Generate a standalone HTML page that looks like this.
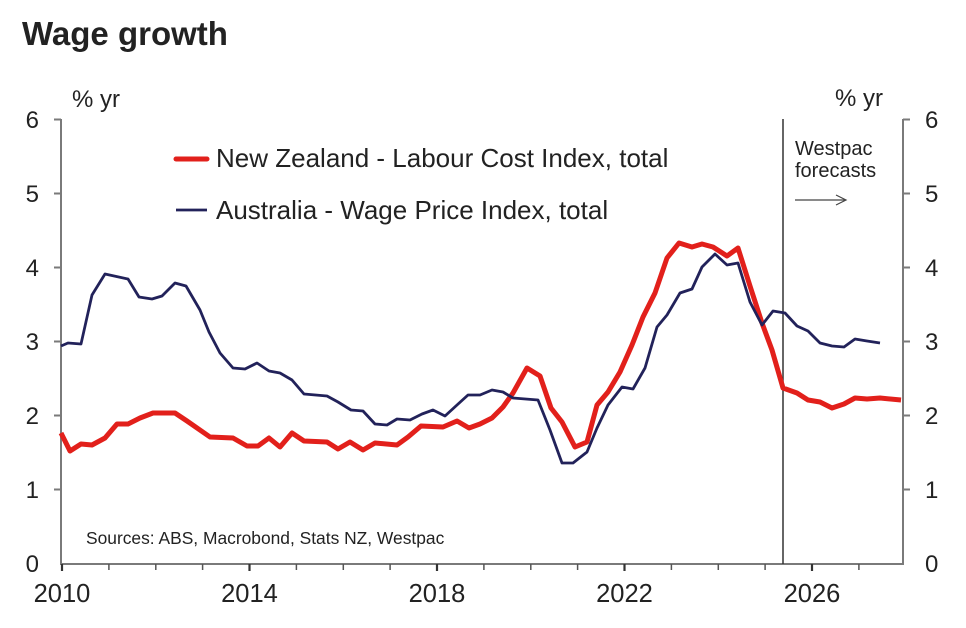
<!DOCTYPE html>
<html><head><meta charset="utf-8"><style>
html,body{margin:0;padding:0;background:#fff;}
svg{display:block;}
text{font-family:"Liberation Sans",Arial,sans-serif;fill:#222;}
</style></head><body>
<svg width="966" height="628" viewBox="0 0 966 628" xmlns="http://www.w3.org/2000/svg">
<rect width="966" height="628" fill="#fff"/>
<text x="22" y="45" font-size="33" font-weight="bold" fill="#1c1c28">Wage growth</text>

<!-- axis unit labels -->
<text x="72" y="107" font-size="24">% yr</text>
<text x="835" y="106" font-size="24">% yr</text>

<!-- axes -->
<g stroke="#7a7a7a" stroke-width="2" fill="none">
<line x1="61" y1="119" x2="61" y2="564"/>
<line x1="903" y1="119" x2="903" y2="564"/>
<line x1="60" y1="564" x2="904" y2="564"/>
<line x1="54" y1="119.5" x2="61" y2="119.5"/>
<line x1="54" y1="193.5" x2="61" y2="193.5"/>
<line x1="54" y1="267.5" x2="61" y2="267.5"/>
<line x1="54" y1="341.5" x2="61" y2="341.5"/>
<line x1="54" y1="415.5" x2="61" y2="415.5"/>
<line x1="54" y1="489.5" x2="61" y2="489.5"/>
<line x1="903" y1="119.5" x2="910" y2="119.5"/>
<line x1="903" y1="193.5" x2="910" y2="193.5"/>
<line x1="903" y1="267.5" x2="910" y2="267.5"/>
<line x1="903" y1="341.5" x2="910" y2="341.5"/>
<line x1="903" y1="415.5" x2="910" y2="415.5"/>
<line x1="903" y1="489.5" x2="910" y2="489.5"/>
</g>
<g stroke="#555" stroke-width="1.5">
<line x1="108.9" y1="564" x2="108.9" y2="570"/>
<line x1="155.8" y1="564" x2="155.8" y2="570"/>
<line x1="202.6" y1="564" x2="202.6" y2="570"/>
<line x1="296.4" y1="564" x2="296.4" y2="570"/>
<line x1="343.3" y1="564" x2="343.3" y2="570"/>
<line x1="390.1" y1="564" x2="390.1" y2="570"/>
<line x1="483.9" y1="564" x2="483.9" y2="570"/>
<line x1="530.8" y1="564" x2="530.8" y2="570"/>
<line x1="577.6" y1="564" x2="577.6" y2="570"/>
<line x1="671.4" y1="564" x2="671.4" y2="570"/>
<line x1="718.3" y1="564" x2="718.3" y2="570"/>
<line x1="765.1" y1="564" x2="765.1" y2="570"/>
<line x1="858.9" y1="564" x2="858.9" y2="570"/>
</g>
<g stroke="#333" stroke-width="2.2">
<line x1="62" y1="564" x2="62" y2="571"/>
<line x1="249.5" y1="564" x2="249.5" y2="571"/>
<line x1="437" y1="564" x2="437" y2="571"/>
<line x1="624.5" y1="564" x2="624.5" y2="571"/>
<line x1="812" y1="564" x2="812" y2="571"/>
</g>

<g font-size="24" text-anchor="end">
<text x="39" y="128">6</text>
<text x="39" y="202">5</text>
<text x="39" y="276">4</text>
<text x="39" y="350">3</text>
<text x="39" y="424">2</text>
<text x="39" y="498">1</text>
<text x="39" y="572">0</text>
</g>
<g font-size="24">
<text x="925" y="128">6</text>
<text x="925" y="202">5</text>
<text x="925" y="276">4</text>
<text x="925" y="350">3</text>
<text x="925" y="424">2</text>
<text x="925" y="498">1</text>
<text x="925" y="572">0</text>
</g>
<g font-size="25.5" text-anchor="middle">
<text x="62" y="602">2010</text>
<text x="249.5" y="602">2014</text>
<text x="437" y="602">2018</text>
<text x="624.5" y="602">2022</text>
<text x="812" y="602">2026</text>
</g>

<line x1="783" y1="119" x2="783" y2="564" stroke="#333" stroke-width="1.5"/>
<text x="795" y="155" font-size="20">Westpac</text>
<text x="795" y="177" font-size="20">forecasts</text>
<line x1="795" y1="200" x2="845" y2="200" stroke="#444" stroke-width="1.2"/>
<polyline points="836,195 846,200 836,205" fill="none" stroke="#444" stroke-width="1.2"/>

<line x1="176" y1="159" x2="207" y2="159" stroke="#e2201b" stroke-width="5" stroke-linecap="round"/>
<text x="216" y="167" font-size="26">New Zealand - Labour Cost Index, total</text>
<line x1="176" y1="210" x2="207" y2="210" stroke="#22225a" stroke-width="2.8"/>
<text x="216" y="219" font-size="26">Australia - Wage Price Index, total</text>

<text x="86" y="544" font-size="17.4">Sources: ABS, Macrobond, Stats NZ, Westpac</text>

<polyline fill="none" stroke="#e2201b" stroke-width="5" stroke-linejoin="round" points="61,433 70,451 81,444 92,445 105,438 117,424 128,424 140,418 153,413 175,413 187,421 210,437 233,438 247,446 258,446 269,438 280,447 292,433 304,441 327,442 338,449 350,442 363,450 375,443 397,445 408,437 421,426 443,427 457,421 469,428 480,424 492,418 503,407 513,393 527,368 540,376 551,408 562,422 575,447 587,442 597,405 608,392 620,372 632,345 643,317 655,293 667,258 679,243 692,247 702,244 713,247 727,256 738,248 750,286 762,323 772,350 783,388 797,393 808,400 820,402 832,408 844,404 855,398 867,399 880,398 901,400"/>
<polyline fill="none" stroke="#22225a" stroke-width="2.8" stroke-linejoin="round" points="61,346 68,343 81,344 92,295 105,274 128,279 139,297 152,299 162,296 175,283 186,286 200,310 209,332 220,353 233,368 245,369 257,363 269,371 280,373 292,380 304,394 327,396 338,402 351,410 363,411 375,424 387,425 397,419 410,420 422,414 433,410 445,416 457,405 468,395 480,395 492,390 503,392 513,398 538,400 550,430 562,463 573,463 587,452 597,428 608,405 622,387 633,389 645,368 657,327 667,315 680,293 692,289 702,267 715,254 727,265 738,263 750,302 762,325 773,311 785,313 797,326 808,331 820,343 832,346 844,347 855,339 867,341 880,343"/>
</svg>
</body></html>
